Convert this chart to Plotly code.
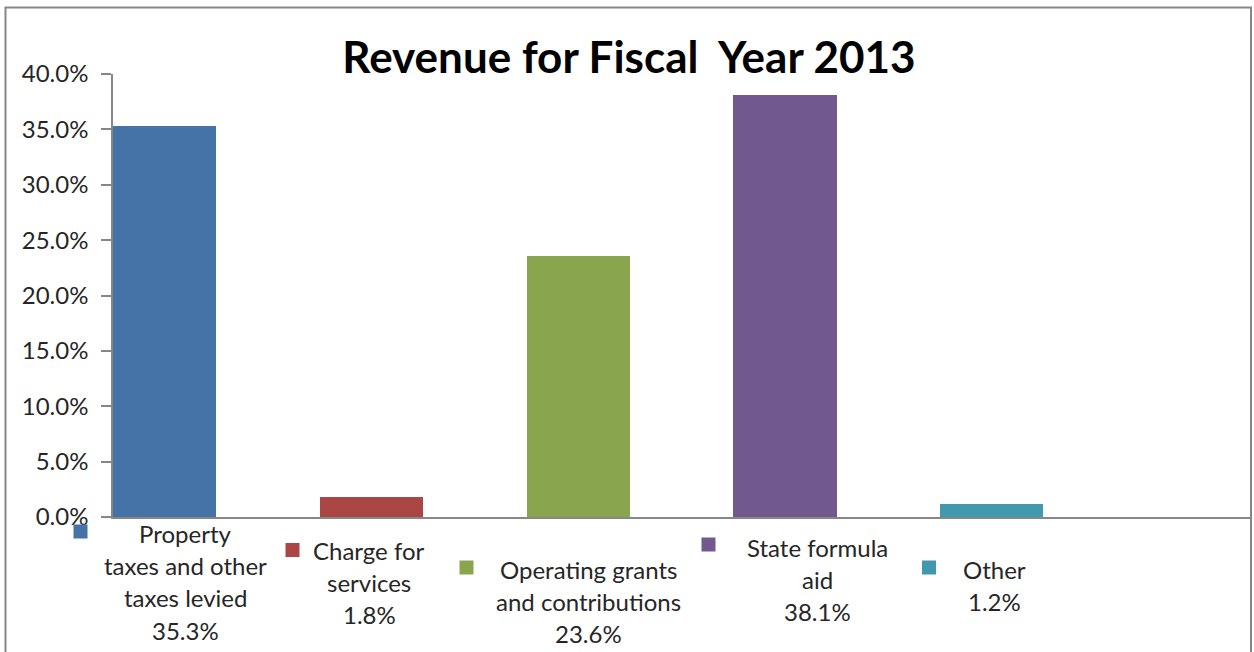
import plotly.graph_objects as go

# Revenue sources, fiscal year 2013 (percent of total revenue)
categories = [
    "Property taxes and other taxes levied",
    "Charge for services",
    "Operating grants and contributions",
    "State formula aid",
    "Other",
]
label_lines = [
    ["Property", "taxes and other", "taxes levied"],
    ["Charge for", "services"],
    ["Operating grants", "and contributions"],
    ["State formula", "aid"],
    ["Other"],
]
values = [35.3, 1.8, 23.6, 38.1, 1.2]
colors = ["#4572A7", "#AA4643", "#89A54E", "#71588F", "#4198AF"]
y_ticks = [0, 5, 10, 15, 20, 25, 30, 35, 40]
y_tick_text = [f"{t:.1f}%" for t in y_ticks]

W, H = 1254, 652
M_L, M_R, M_T, M_B = 113, 4, 74, 135
PLOT_W = W - M_L - M_R
PLOT_H = H - M_T - M_B

TEXT = "#262626"
AXIS = "#878787"
FONT = "Lato"
BODY_SIZE = 24


def px(x):
    """pixel column -> paper x"""
    return (x - M_L) / PLOT_W


def py(y):
    """pixel row -> paper y"""
    return (H - M_B - y) / PLOT_H


fig = go.Figure()
for i, (name, v, c) in enumerate(zip(categories, values, colors)):
    fig.add_trace(go.Bar(
        x=[i], y=[v], width=0.5, name=name,
        marker=dict(color=c, line=dict(width=0)),
        showlegend=False,
        hovertemplate=name + ": %{y:.1f}%<extra></extra>",
    ))

# legend block under the axis: swatch position, text centre, first text line
legend_swatch = [(80.5, 531.5), (292.5, 550), (466.5, 567.5), (708.5, 544.5), (929, 567.5)]
legend_text_x = [185, 369, 588, 817, 995]
legend_text_y0 = [533, 550, 569, 547, 569]
LINE_STEP = 32.4
SW = 14

shapes = [dict(
    type="rect", xref="paper", yref="paper",
    x0=px(5.5), x1=px(1251), y0=py(665), y1=py(7.5),
    line=dict(color=AXIS, width=2), fillcolor="rgba(0,0,0,0)", layer="above",
)]
annotations = []
for i, (lines, v, c) in enumerate(zip(label_lines, values, colors)):
    sx, sy = legend_swatch[i]
    shapes.append(dict(
        type="rect", xref="paper", yref="paper",
        x0=px(sx - SW / 2), x1=px(sx + SW / 2),
        y0=py(sy + SW / 2), y1=py(sy - SW / 2),
        fillcolor=c, line=dict(width=0),
    ))
    for k, txt in enumerate(lines + [f"{v:.1f}%"]):
        annotations.append(dict(
            text=txt, xref="paper", yref="paper",
            x=px(legend_text_x[i]), y=py(legend_text_y0[i] + k * LINE_STEP),
            xanchor="center", yanchor="middle", showarrow=False,
            font=dict(family=FONT, size=BODY_SIZE, color=TEXT),
        ))

fig.update_layout(
    width=W, height=H,
    margin=dict(l=M_L, r=M_R, t=M_T, b=M_B),
    paper_bgcolor="white", plot_bgcolor="white",
    title=dict(
        text="Revenue for Fiscal\u00a0 Year 2013",
        x=629 / W, xanchor="center", y=1 - 58 / H, yanchor="middle",
        font=dict(family=FONT, size=44, color="#000000", weight="bold"),
    ),
    xaxis=dict(
        range=[-0.25, -0.25 + PLOT_W / 206.75],
        showline=True, linecolor=AXIS, linewidth=1.5,
        showticklabels=False, ticks="", showgrid=False, zeroline=False,
        fixedrange=True,
    ),
    yaxis=dict(
        range=[0, 40], tickvals=y_ticks, ticktext=y_tick_text,
        ticks="outside", ticklen=10, tickwidth=1.5, tickcolor=AXIS,
        ticklabelstandoff=8,
        showline=True, linecolor=AXIS, linewidth=1.5,
        showgrid=False, zeroline=False,
        tickfont=dict(family=FONT, size=BODY_SIZE, color=TEXT),
        fixedrange=True,
    ),
    shapes=shapes,
    annotations=annotations,
    bargap=0,
)

fig.write_html("out.html")
